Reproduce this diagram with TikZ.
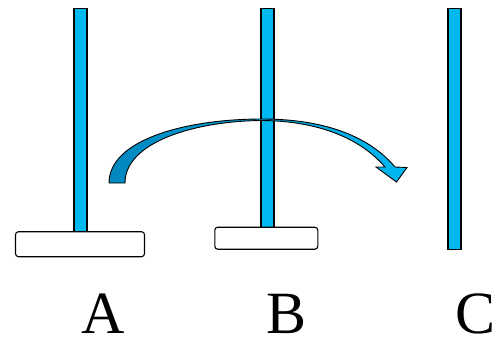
\documentclass[tikz,border=0pt]{standalone}
\usepackage{fontspec}
\setmainfont{Liberation Serif}
\usetikzlibrary{positioning}
\definecolor{poleblue}{RGB}{0,183,240}
\definecolor{darkpole}{RGB}{0,135,190}
\tikzset{
  pole/.style={
    draw, rectangle, fill=poleblue, minimum width=13pt,
    inner sep=0pt, line width=1.1pt, anchor=north
  },
  disk/.style={
    draw, rectangle, rounded corners=3pt, fill=white,
    inner sep=0pt, line width=1.1pt
  },
  peglabel/.style={
    font=\fontsize{60}{60}\selectfont, anchor=base, inner sep=0pt,
    text depth=0pt
  },
  movearrow/.style={
    draw, line width=0.9pt, left color=darkpole, right color=poleblue
  },
}

\begin{document}
\begin{tikzpicture}[x=1pt, y=-1pt]

  \useasboundingbox (0,0) rectangle (496,341);

  %%% Poles %%%
  \node[pole, minimum height=224pt] (poleA) at (80.5,8) {};
  \node[pole, minimum height=219pt] (poleB) at (267.5,8) {};
  \node[pole, minimum height=241pt] (poleC) at (454.5,8) {};

  %%% Disks %%%
  \node[disk, minimum width=129pt, minimum height=25pt] (diskA) at (80,244.2) {};
  \node[disk, minimum width=103pt, minimum height=22pt] (diskB) at (266.3,238.2) {};

  %%% Labels %%%
  \node[peglabel] (lblA) at (103.5,333) {A};
  \node[peglabel] (lblB) at (287,333) {B};
  \node[peglabel] (lblC) at (475.5,333) {C};

  %%% Curved move arrow A -> C %%%
  \path[movearrow]
    (109,183) .. controls (109,140) and (185,119) .. (262,119)
    .. controls (322,119) and (368,135) .. (395,167)
    -- (407,167.5) -- (396.5,182) -- (376,167) -- (385,167)
    .. controls (360,138) and (318,121) .. (262,120.5)
    .. controls (195,121) and (125,142) .. (125,183) -- cycle;

\end{tikzpicture}
\end{document}
